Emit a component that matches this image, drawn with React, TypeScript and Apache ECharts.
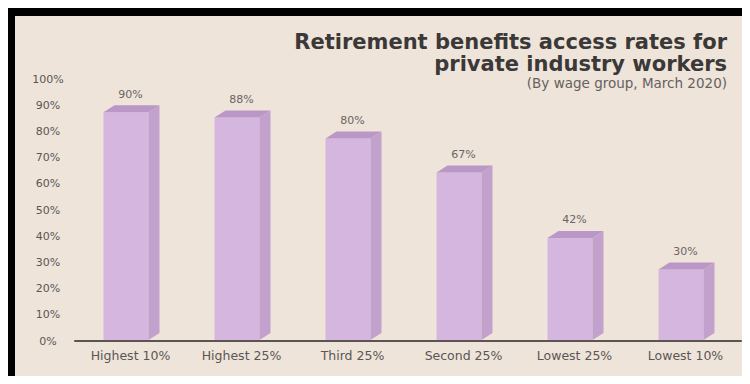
import React, { useEffect, useRef } from "react";
import * as echarts from "echarts";

const categories = ["Highest 10%", "Highest 25%", "Third 25%", "Second 25%", "Lowest 25%", "Lowest 10%"];
const accessRates = [90, 88, 80, 67, 42, 30];
const titleLines = ["Retirement benefits access rates for", "private industry workers"];
const subtitle = "(By wage group, March 2020)";

const FONT = "DejaVu Sans";

export default function App() {
  const ref = useRef<HTMLDivElement>(null);
  useEffect(() => {
    if (!ref.current) return;
    const chart = echarts.init(ref.current, null, { renderer: "svg" });
    const FRONT = "#D4B6DE";
    const SIDE = "#C3A1CD";
    const TOP = "#BA97C6";
    chart.setOption({
      animation: false,
      backgroundColor: "#EEE4D9",
      graphic: [
        { type: "text", right: 23, top: 15, style: { text: titleLines[0], font: `bold 21px "${FONT}"`, fill: "#3b3838", textAlign: "right" } },
        { type: "text", right: 23, top: 37, style: { text: titleLines[1], font: `bold 21px "${FONT}"`, fill: "#3b3838", textAlign: "right" } },
        { type: "text", right: 23, top: 60, style: { text: subtitle, font: `13.5px "${FONT}"`, fill: "#666060", textAlign: "right" } },
      ],
      grid: { left: 60, right: 9, top: 63, bottom: 42, containLabel: false },
      xAxis: {
        type: "category",
        data: categories,
        axisLine: { lineStyle: { color: "#5a5452", width: 2 } },
        axisTick: { show: false },
        axisLabel: { color: "#5b5656", fontFamily: FONT, fontSize: 12.5, margin: 8 },
      },
      yAxis: {
        type: "value",
        min: 0,
        max: 100,
        interval: 10,
        axisLine: { show: false },
        axisTick: { show: false },
        splitLine: { show: false },
        axisLabel: { color: "#5b5656", fontFamily: FONT, fontSize: 11, formatter: "{value}%", align: "center", margin: 27 },
      },
      series: [
        {
          type: "custom",
          data: accessRates.map((v, i) => [i, v]),
          encode: { x: 0, y: 1 },
          renderItem: (params: any, api: any) => {
            const idx = api.value(0);
            const val = api.value(1);
            const top = api.coord([idx, val]);
            const base = api.coord([idx, 0]);
            const cx = top[0];
            const w = 45;
            const dx = 11;
            const dy = 7;
            const xl = cx - 27;
            const xr = xl + w;
            const yv = top[1];
            const y0 = base[1] - 1;
            return {
              type: "group",
              children: [
                { type: "rect", shape: { x: xl, y: yv + dy, width: w, height: y0 - yv - dy }, style: { fill: FRONT } },
                { type: "polygon", shape: { points: [[xr, yv + dy], [xr + dx, yv], [xr + dx, y0 - dy], [xr, y0]] }, style: { fill: SIDE } },
                { type: "polygon", shape: { points: [[xl, yv + dy], [xl + dx, yv], [xr + dx, yv], [xr, yv + dy]] }, style: { fill: TOP } },
                { type: "text", style: { x: cx, y: yv - 11, text: val + "%", font: `11px "${FONT}"`, fill: "#6b6464", textAlign: "center", textVerticalAlign: "middle" } },
              ],
            };
          },
        },
      ],
    });
    return () => chart.dispose();
  }, []);
  return (
    <div style={{ position: "relative", width: 750, height: 384, margin: -8, background: "#ffffff", overflow: "hidden" }}>
      <div ref={ref} style={{ position: "absolute", left: 15, top: 16, width: 735, height: 367 }} />
      <div style={{ position: "absolute", left: 7, top: 8, width: 743, height: 8, background: "#000" }} />
      <div style={{ position: "absolute", left: 7, top: 8, width: 8, height: 376, background: "#000" }} />
      <div style={{ position: "absolute", left: 7, top: 383, width: 743, height: 1, background: "#000" }} />
    </div>
  );
}
